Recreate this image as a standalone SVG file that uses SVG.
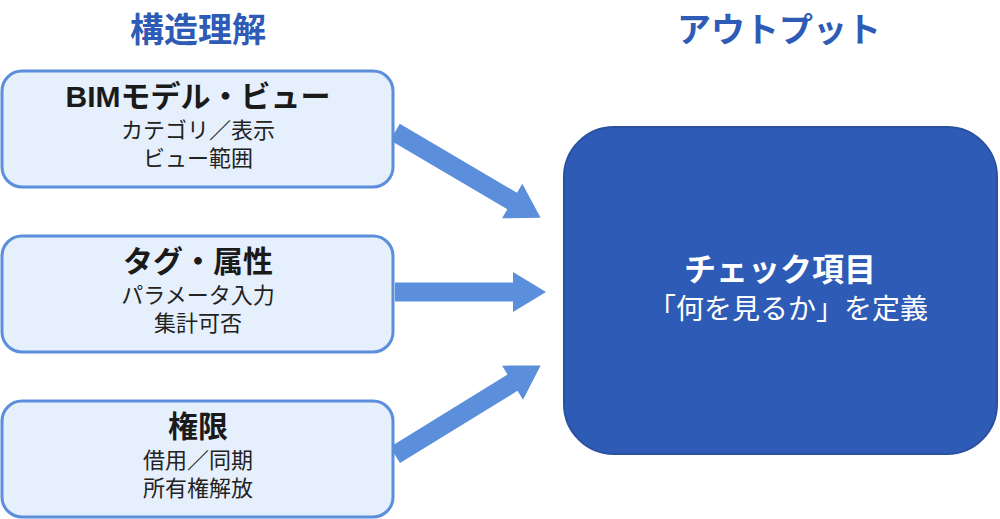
<svg xmlns="http://www.w3.org/2000/svg" width="1000" height="519" viewBox="0 0 1000 519">
<style>
.hdr{font-family:"Noto Sans CJK JP",sans-serif;font-weight:bold;font-size:34px;fill:#2E5BB5;text-anchor:middle}
.box{fill:#E6EFFC;stroke:#5B8EDB;stroke-width:3}
.t1{font-family:"Liberation Sans","Noto Sans CJK JP",sans-serif;font-weight:bold;font-size:30px;fill:#1A1A1A;text-anchor:middle}
.t2{font-family:"Liberation Sans","Noto Sans CJK JP",sans-serif;font-size:22px;fill:#222;text-anchor:middle}
.arr{fill:#5B8EDB}
.out1{font-family:"Noto Sans CJK JP",sans-serif;font-weight:bold;font-size:32px;fill:#fff;text-anchor:middle}
.out2{font-family:"Noto Sans CJK JP",sans-serif;font-size:28px;fill:#fff;text-anchor:middle}
</style>
<rect width="1000" height="519" fill="#fff"/>
<text class="hdr" x="198" y="42">構造理解</text>
<text class="hdr" x="779" y="42">アウトプット</text>
<g id="connectors">
<path class="arr" transform="translate(395,132) rotate(30.5)" d="M0,-9.5 L136,-9.5 L136,-20 L169,0 L136,20 L136,9.5 L0,9.5 Z"/>
<path class="arr" transform="translate(395,292)" d="M0,-9.5 L118,-9.5 L118,-20 L151,0 L118,20 L118,9.5 L0,9.5 Z"/>
<path class="arr" transform="translate(395,455) rotate(-31.6)" d="M0,-9.5 L138,-9.5 L138,-20 L171,0 L138,20 L138,9.5 L0,9.5 Z"/>
</g>
<g id="node-bim">
<rect class="box" x="2" y="71" width="391" height="116" rx="20"/>
<text class="t1" x="198" y="107">BIMモデル・ビュー</text>
<text class="t2" x="198" y="138">カテゴリ／表示</text>
<text class="t2" x="198" y="166">ビュー範囲</text>
</g>
<g id="node-tag">
<rect class="box" x="2" y="236" width="391" height="116" rx="20"/>
<text class="t1" x="198" y="272">タグ・属性</text>
<text class="t2" x="198" y="303">パラメータ入力</text>
<text class="t2" x="198" y="331">集計可否</text>
</g>
<g id="node-perm">
<rect class="box" x="2" y="401" width="391" height="116" rx="20"/>
<text class="t1" x="198" y="437">権限</text>
<text class="t2" x="198" y="468">借用／同期</text>
<text class="t2" x="198" y="496">所有権解放</text>
</g>
<g id="node-output">
<rect x="564" y="127" width="433" height="327" rx="50" fill="#2E5BB5" stroke="#2A50A0" stroke-width="2"/>
<text class="out1" x="780" y="281">チェック項目</text>
<text class="out2" x="788" y="319">「何を見るか」を定義</text>
</g>
</svg>
